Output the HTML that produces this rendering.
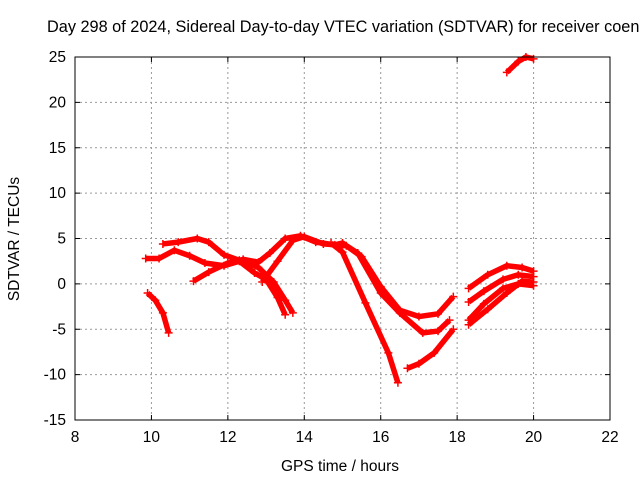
<!DOCTYPE html>
<html><head><meta charset="utf-8"><style>
body{margin:0;background:#fff;overflow:hidden}
svg text{font-family:"Liberation Sans",sans-serif;font-size:15.5px;fill:#000}
</style></head><body>
<svg id="c" width="640" height="480" xmlns="http://www.w3.org/2000/svg">
<text x="47" y="32" style="font-size:16.3px">Day 298 of 2024, Sidereal Day-to-day VTEC variation (SDTVAR) for receiver coen</text>
<text x="340" y="471" text-anchor="middle">GPS time / hours</text>
<text transform="translate(19,239) rotate(-90)" text-anchor="middle">SDTVAR / TECUs</text>
<g id="grid"></g><g id="data"></g>
<rect x="75" y="57" width="535" height="363" fill="none" stroke="#000"/>
</svg>
<script>
const xTicks=[8,10,12,14,16,18,20,22];
const yTicks=[-15,-10,-5,0,5,10,15,20,25];
const track1=[[9.9,-1],[10.1,-1.8],[10.3,-3.2],[10.45,-5.4]];
const track2=[[10.3,4.4],[10.7,4.6],[11.2,5.0],[11.5,4.6],[11.9,3.2],[12.3,2.6],[12.8,1.8],[13.2,0.2],[13.5,-1.8],[13.7,-3.2]];
const track3=[[9.85,2.8],[10.2,2.8],[10.6,3.7],[11.0,3.1],[11.4,2.3],[11.9,2.0],[12.3,2.5],[12.7,1.2],[13.0,0.5],[13.3,-1.5],[13.5,-3.4]];
const track4=[[11.1,0.3],[11.5,1.3],[12.0,2.3],[12.4,2.7],[12.8,2.4],[13.1,3.4],[13.5,5.0],[13.9,5.3],[14.3,4.6],[14.8,4.3],[15.0,4.5],[15.5,3.0],[16.0,-0.3],[16.5,-2.9],[17.0,-3.6],[17.5,-3.3],[17.9,-1.4]];
const track5=[[12.9,0.2],[13.3,2.5],[13.7,4.8],[14.0,5.2],[14.5,4.4],[15.1,4.2],[15.4,3.4],[16.0,-1.0],[16.5,-3.2],[17.1,-5.4],[17.5,-5.2],[17.8,-4.0]];
const track6=[[14.7,4.5],[15.0,3.5],[15.6,-2.1],[16.2,-7.6],[16.45,-10.9]];
const track7=[[16.7,-9.3],[17.0,-8.8],[17.4,-7.6],[17.9,-5.0]];
const track8=[[18.3,-0.5],[18.8,1.0],[19.3,2.0],[19.7,1.8],[20.0,1.4]];
const track9=[[18.3,-2.0],[18.7,-0.8],[19.2,0.5],[19.6,1.0],[20.0,0.8]];
const track10=[[18.3,-4.0],[18.7,-2.2],[19.2,-0.5],[19.6,0.0],[20.0,-0.2]];
const track11=[[18.3,-4.5],[18.8,-2.8],[19.3,-1.0],[19.7,0.3],[20.0,0.2]];
const track12=[[19.3,23.3],[19.6,24.5],[19.8,25],[20.0,24.8]];
const tracks=[track1,track2,track3,track4,track5,track6,track7,track8,track9,track10,track11,track12];
const X=v=>75+(v-8)*535/14, Y=v=>57+(25-v)*363/40;
const NS='http://www.w3.org/2000/svg';
const g=document.getElementById('grid'), d=document.getElementById('data');
function mk(p,tag,a){const e=document.createElementNS(NS,tag);for(const k in a)e.setAttribute(k,a[k]);p.appendChild(e);return e;}
xTicks.forEach(t=>{const x=X(t);
 if(t>8&&t<22){const l=mk(g,'line',{x1:x,x2:x,y1:57,y2:420,stroke:'#999','stroke-dasharray':'2,3'});
 
 }
 const tx=mk(g,'text',{x:x,y:442,'text-anchor':'middle'});tx.textContent=t;
 
 
 mk(g,'line',{x1:x,x2:x,y1:420,y2:415,stroke:'#000'});mk(g,'line',{x1:x,x2:x,y1:57,y2:62,stroke:'#000'});});
yTicks.forEach(t=>{const y=Y(t);
 if(t>-15&&t<25){const l=mk(g,'line',{x1:75,x2:610,y1:y,y2:y,stroke:'#999','stroke-dasharray':'2,3'});
 
 }
 const tx=mk(g,'text',{x:66,y:y+5,'text-anchor':'end'});tx.textContent=t;
 
 
 mk(g,'line',{x1:75,x2:80,y1:y,y2:y,stroke:'#000'});mk(g,'line',{x1:610,x2:605,y1:y,y2:y,stroke:'#000'});});
tracks.forEach((tr,i)=>{
 const pl=mk(d,'polyline',{points:tr.map(p=>X(p[0])+','+Y(p[1])).join(' '),fill:'none',stroke:'#f00','stroke-width':5.5,'stroke-linejoin':'round'});
 
 
 tr.forEach(p=>{const x=X(p[0]),y=Y(p[1]);
  const m=mk(d,'path',{d:`M${x-4},${y}h8M${x},${y-4}v8`,stroke:'#f00','stroke-width':1.5});
  
  });
});
</script>
</body></html>
